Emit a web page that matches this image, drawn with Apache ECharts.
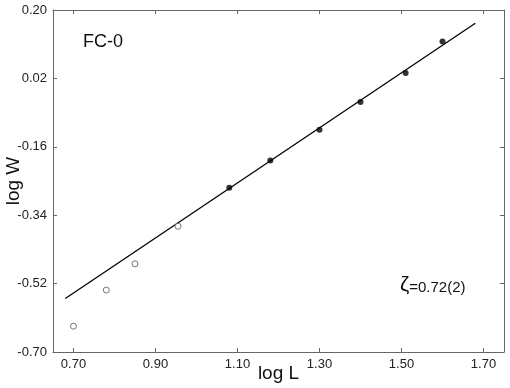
<!DOCTYPE html>
<html>
<head>
<meta charset="utf-8">
<script src="https://cdn.jsdelivr.net/npm/echarts@6/dist/echarts.min.js"></script>
<style>
  html, body { margin: 0; padding: 0; background: #fff; }
  #chart { width: 510px; height: 388px; }
</style>
</head>
<body>
<div id="chart"></div>
<script>
// log L / log W
var fitX = [1.08, 1.18, 1.30, 1.40, 1.51, 1.60];
var fitY = [-0.268, -0.196, -0.115, -0.042, 0.034, 0.117];
var smallX = [0.70, 0.78, 0.85, 0.955];
var smallY = [-0.632, -0.537, -0.468, -0.369];
// fitted line, slope ~0.72
var lineX = [0.68, 1.68];
var lineY = [-0.559, 0.165];
var xTicks = [0.70, 0.90, 1.10, 1.30, 1.50, 1.70];
var yTicks = [0.20, 0.02, -0.16, -0.34, -0.52, -0.70];

function pairs(xs, ys) {
  return xs.map(function (x, i) { return [x, ys[i]]; });
}

var chart = echarts.init(document.getElementById("chart"));
var font = "Liberation Sans, Arial, Helvetica, sans-serif";
var axisCol = "#666";

function frameAxis(pos, lo, hi, ticks) {
  return {
    type: "value",
    position: pos,
    min: lo,
    max: hi,
    axisLine: { show: true, onZero: false, lineStyle: { color: axisCol, width: 1 } },
    axisTick: { inside: true, length: 4, customValues: ticks, lineStyle: { color: axisCol } },
    axisLabel: { show: false },
    splitLine: { show: false }
  };
}

var option = {
  animation: false,
  textStyle: { fontFamily: font },
  grid: { left: 53, right: 6, top: 10, bottom: 36, outerBoundsMode: "none" },
  xAxis: [
    {
      type: "value",
      min: 0.65,
      max: 1.75,
      name: "log L",
      nameLocation: "middle",
      nameGap: 12,
      nameMoveOverlap: false,
      nameTextStyle: { fontSize: 19, color: "#111", fontFamily: font },
      axisLine: { show: true, onZero: false, lineStyle: { color: axisCol, width: 1 } },
      axisTick: { inside: true, length: 4, customValues: xTicks, lineStyle: { color: axisCol } },
      axisLabel: {
        customValues: xTicks, fontSize: 13, color: "#222", margin: 6,
        formatter: function (v) { return v.toFixed(2); }
      },
      splitLine: { show: false }
    },
    frameAxis("top", 0.65, 1.75, xTicks)
  ],
  yAxis: [
    {
      type: "value",
      min: -0.70,
      max: 0.20,
      name: "log W",
      nameLocation: "middle",
      nameRotate: 90,
      nameGap: 30,
      nameMoveOverlap: false,
      nameTextStyle: { fontSize: 19, color: "#111", fontFamily: font },
      axisLine: { show: true, onZero: false, lineStyle: { color: axisCol, width: 1 } },
      axisTick: { inside: true, length: 4, customValues: yTicks, lineStyle: { color: axisCol } },
      axisLabel: {
        customValues: yTicks, fontSize: 13, color: "#222", margin: 6,
        formatter: function (v) { return v.toFixed(2); }
      },
      splitLine: { show: false }
    },
    frameAxis("right", -0.70, 0.20, yTicks)
  ],
  graphic: [
    {
      type: "text", left: 83, top: 33,
      style: { text: "FC-0", font: "18px " + font, fill: "#111" }
    },
    {
      type: "text", left: 400, top: 275,
      style: {
        text: "{z|ζ}{v|=0.72(2)}",
        rich: {
          z: { fontSize: 21, fontFamily: font, fill: "#111" },
          v: { fontSize: 15, fontFamily: font, fill: "#111", padding: [4, 0, 0, 0] }
        }
      }
    }
  ],
  series: [
    {
      type: "line",
      data: pairs(lineX, lineY),
      symbol: "none",
      lineStyle: { color: "#000", width: 1.3 },
      z: 1
    },
    {
      type: "scatter",
      data: pairs(fitX, fitY),
      symbolSize: 6,
      itemStyle: { color: "#000" },
      z: 3
    },
    {
      type: "scatter",
      data: pairs(smallX, smallY),
      symbolSize: 6,
      itemStyle: { color: "#fff", borderColor: "#555", borderWidth: 1 },
      z: 3
    }
  ]
};

chart.setOption(option);
</script>
</body>
</html>
